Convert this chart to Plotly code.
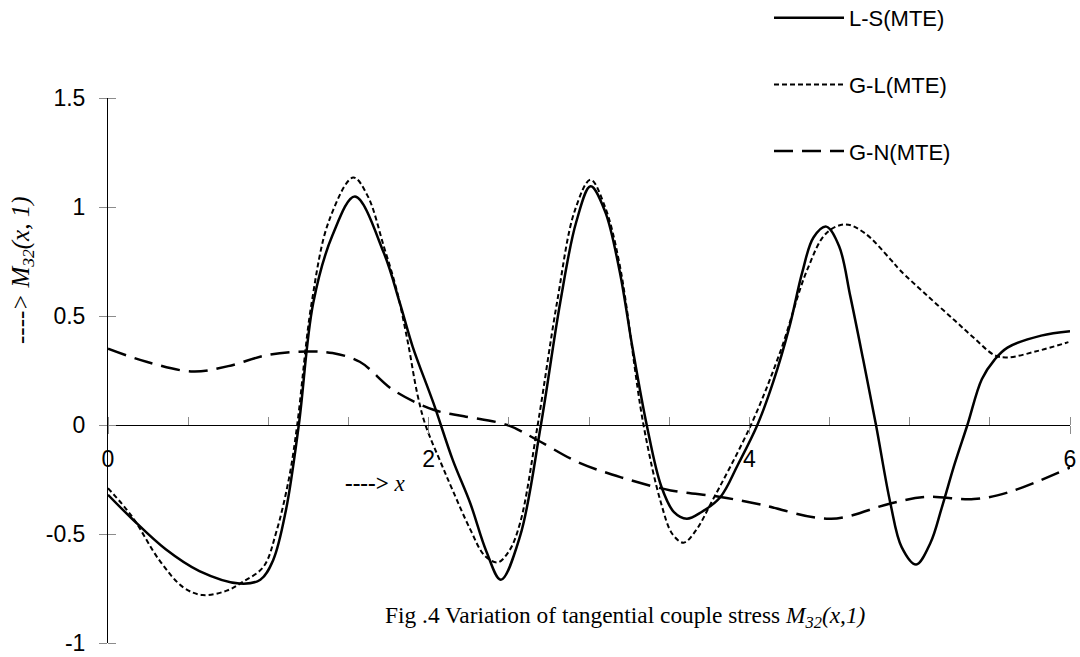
import numpy as np
import plotly.graph_objects as go

# ---- data ----
ls_x = [0.0, 0.15, 0.36, 0.57, 0.82, 0.95, 1.03, 1.11, 1.19, 1.28, 1.40, 1.54, 1.72, 1.82, 1.90, 2.03,
        2.15, 2.26, 2.36, 2.45, 2.57, 2.70, 2.82, 2.92, 3.01, 3.10, 3.19, 3.27, 3.36, 3.45, 3.53, 3.61,
        3.70, 3.82, 3.93, 4.05, 4.15, 4.25, 4.33, 4.40, 4.48, 4.56, 4.63, 4.71, 4.79, 4.88, 4.95, 5.04,
        5.13, 5.20, 5.28, 5.36, 5.45, 5.53, 5.61, 5.82, 6.0]
ls_y = [-0.32, -0.43, -0.57, -0.67, -0.727, -0.71, -0.62, -0.39, 0.0, 0.56, 0.87, 1.048, 0.79, 0.56, 0.36, 0.10,
        -0.16, -0.36, -0.58, -0.71, -0.51, 0.0, 0.56, 0.93, 1.095, 0.98, 0.71, 0.36, 0.0, -0.28, -0.40, -0.43,
        -0.40, -0.33, -0.18, 0.0, 0.20, 0.45, 0.70, 0.86, 0.91, 0.82, 0.59, 0.30, 0.0, -0.36, -0.56, -0.64,
        -0.54, -0.38, -0.18, 0.0, 0.21, 0.30, 0.355, 0.41, 0.43]

gl_x = [0.0, 0.15, 0.32, 0.47, 0.59, 0.74, 0.84, 0.97, 1.05, 1.13, 1.18, 1.27, 1.38, 1.53, 1.62, 1.72,
        1.80, 1.87, 1.93, 1.98, 2.08, 2.15, 2.26, 2.35, 2.43, 2.50, 2.57, 2.68, 2.80, 2.91, 3.01, 3.10,
        3.19, 3.34, 3.45, 3.52, 3.59, 3.67, 3.76, 4.01, 4.19, 4.36, 4.48, 4.60, 4.72, 4.88, 4.94, 5.10,
        5.28, 5.40, 5.53, 5.61, 5.80, 5.99]
gl_y = [-0.29, -0.42, -0.62, -0.745, -0.78, -0.76, -0.72, -0.65, -0.49, -0.24, 0.0, 0.56, 0.94, 1.135, 1.05, 0.82,
        0.62, 0.38, 0.14, 0.0, -0.18, -0.30, -0.48, -0.60, -0.63, -0.58, -0.45, 0.0, 0.56, 0.98, 1.125, 1.0,
        0.74, 0.0, -0.36, -0.50, -0.54, -0.48, -0.36, 0.0, 0.33, 0.71, 0.88, 0.92, 0.88, 0.76, 0.71, 0.60,
        0.48, 0.40, 0.32, 0.31, 0.34, 0.38]

gn_x = [0.0, 0.24, 0.53, 0.75, 0.99, 1.24, 1.40, 1.57, 1.78, 2.03, 2.22, 2.49, 2.68, 2.93, 3.20, 3.51,
        3.82, 4.07, 4.51, 4.88, 5.09, 5.40, 5.61, 6.0]
gn_y = [0.35, 0.29, 0.245, 0.27, 0.32, 0.337, 0.33, 0.29, 0.16, 0.07, 0.04, 0.0, -0.07, -0.17, -0.24, -0.30,
        -0.33, -0.365, -0.43, -0.36, -0.33, -0.34, -0.31, -0.195]

series_names = ["L-S(MTE)", "G-L(MTE)", "G-N(MTE)"]

x_range = [0, 6]
y_range = [-1, 1.5]
x_tickvals = [0, 0.5, 1, 1.5, 2, 2.5, 3, 3.5, 4, 4.5, 5, 5.5, 6]
x_ticktext = ["0", "", "", "", "2", "", "", "", "4", "", "", "", "6"]
y_tickvals = [-1, -0.5, 0, 0.5, 1, 1.5]
y_ticktext = ["-1", "-0.5", "0", "0.5", "1", "1.5"]

SANS = "Liberation Sans, Arial, sans-serif"
SERIF = "Liberation Serif, Times New Roman, serif"
TICKGRAY = "#8c8c8c"

W, H = 1080, 657
ML, MR, MT, MB = 108, 10, 98, 14
PW, PH = W - ML - MR, H - MT - MB


def px_x(p):
    return (p - ML) / PW


def px_y(p):
    return 1 - (p - MT) / PH


fig = go.Figure()
styles = [
    dict(width=2.5, dash="solid"),
    dict(width=2, dash="5px,3px"),
    dict(width=2.5, dash="19px,9px"),
]
for i, (xs, ys) in enumerate([(ls_x, ls_y), (gl_x, gl_y), (gn_x, gn_y)]):
    fig.add_trace(go.Scatter(
        x=xs, y=ys, mode="lines", name=series_names[i], legendgroup=series_names[i],
        line=dict(color="black", shape="spline", smoothing=1.0, **styles[i]),
    ))

zero_pos = (0 - y_range[0]) / (y_range[1] - y_range[0])

fig.update_layout(
    width=W, height=H, autosize=False,
    margin=dict(l=ML, r=MR, t=MT, b=MB, autoexpand=False),
    paper_bgcolor="white", plot_bgcolor="white",
    showlegend=True,
    legend=dict(
        x=px_x(769), xanchor="left",
        y=px_y(-3), yanchor="top",
        font=dict(family=SANS, size=22, color="black"),
        bgcolor="rgba(0,0,0,0)", itemwidth=70, tracegroupgap=35,
    ),
    xaxis=dict(
        range=x_range, anchor="free", position=zero_pos,
        showline=True, linecolor="black", linewidth=1,
        showgrid=False, zeroline=False,
        tickmode="array", tickvals=x_tickvals, ticktext=x_ticktext,
        ticks="outside", ticklen=8, tickcolor=TICKGRAY, tickwidth=1,
        minor=dict(ticks="inside", tickmode="array", tickvals=x_tickvals, ticklen=8, tickcolor=TICKGRAY, tickwidth=1),
        tickfont=dict(family=SANS, size=23, color="black"),
        ticklabelstandoff=5,
    ),
    yaxis=dict(
        range=y_range, showline=True, linecolor="black", linewidth=1,
        showgrid=False, zeroline=False,
        tickmode="array", tickvals=y_tickvals, ticktext=y_ticktext,
        ticks="outside", ticklen=8, tickcolor=TICKGRAY, tickwidth=1,
        minor=dict(ticks="inside", tickmode="array", tickvals=y_tickvals, ticklen=8, tickcolor=TICKGRAY, tickwidth=1),
        tickfont=dict(family=SANS, size=23, color="black"),
        ticklabelstandoff=9,
    ),
)

fig.add_annotation(
    text="<i>----> M<sub>32</sub>(x, 1)</i>", textangle=-90,
    xref="paper", yref="paper", x=px_x(22), y=px_y(270),
    xanchor="center", yanchor="middle", showarrow=False,
    font=dict(family=SERIF, size=25, color="black"),
)
fig.add_annotation(
    text="<b>----></b> <i>x</i>",
    xref="paper", yref="paper", x=px_x(343), y=px_y(483),
    xanchor="left", yanchor="middle", showarrow=False,
    font=dict(family=SERIF, size=23, color="black"),
)
fig.add_annotation(
    text="Fig .4 Variation of tangential couple stress <i>M<sub>32</sub>(x,1)</i>",
    xref="paper", yref="paper", x=px_x(383), y=px_y(617),
    xanchor="left", yanchor="middle", showarrow=False,
    font=dict(family=SERIF, size=23.4, color="black"),
)

fig.write_html("out.html")
